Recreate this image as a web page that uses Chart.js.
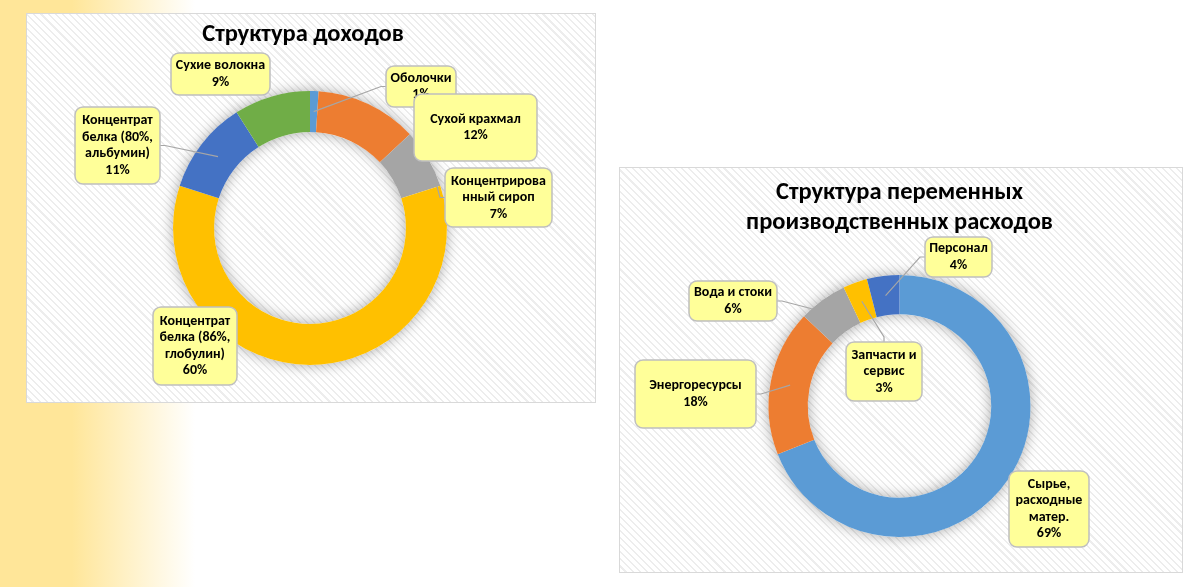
<!DOCTYPE html>
<html lang="ru">
<head>
<meta charset="UTF-8">
<title>Структура доходов и расходов</title>
<script src="https://cdn.jsdelivr.net/npm/chart.js"></script>
<style>
  html, body { margin: 0; padding: 0; }
  body {
    width: 1200px; height: 587px; position: relative; overflow: hidden;
    background: linear-gradient(to right, #ffe699 0, #ffe699 72px, #ffffff 195px);
  }
  .box {
    position: absolute; box-sizing: border-box; border: 1px solid #d9d9d9;
    background: repeating-linear-gradient(45deg, #ffffff 0 3.5px, #ededed 3.5px 5px);
  }
  #incomeBox { left: 26px; top: 13px; width: 570px; height: 390px; }
  #costBox { left: 619px; top: 167px; width: 564px; height: 406px; }
</style>
</head>
<body>
<div class="box" id="incomeBox"><canvas id="incomeChart"></canvas></div>
<div class="box" id="costBox"><canvas id="costChart"></canvas></div>

<script>
const FONT = "Carlito, Lato, 'Open Sans', sans-serif";

// Структура доходов, %
const incomeCategories = [
  ['Оболочки'],
  ['Сухой крахмал'],
  ['Концентрирова', 'нный сироп'],
  ['Концентрат', 'белка (86%,', 'глобулин)'],
  ['Концентрат', 'белка (80%,', 'альбумин)'],
  ['Сухие волокна']
];
const incomeShares = [1, 12, 7, 60, 11, 9];
const incomeColors = ['#5b9bd5', '#ed7d31', '#a5a5a5', '#ffc000', '#4472c4', '#70ad47'];

// Структура переменных производственных расходов, %
const costCategories = [
  ['Сырье,', 'расходные', 'матер.'],
  ['Энергоресурсы'],
  ['Вода и стоки'],
  ['Запчасти и', 'сервис'],
  ['Персонал']
];
const costShares = [69, 18, 6, 3, 4];
const costColors = ['#5b9bd5', '#ed7d31', '#a5a5a5', '#ffc000', '#4472c4'];

// callout boxes inside each canvas; leader = [position along slice, position across ring] or null
const incomeCallouts = [
  { x: 359, y: 52, w: 70, h: 41, leader: [0.5, 0.5] },
  { x: 387, y: 80, w: 123, h: 67, leader: null },
  { x: 418, y: 154, w: 107, h: 59, leader: [0.97, 0.92] },
  { x: 126, y: 293, w: 84, h: 78, leader: null },
  { x: 48, y: 93, w: 85, h: 77, leader: [0.5, 0.5] },
  { x: 144, y: 39, w: 99, h: 42, leader: null }
];
const costCallouts = [
  { x: 389, y: 303, w: 80, h: 76, leader: null },
  { x: 15, y: 192, w: 121, h: 68, leader: [0.5, 0.5] },
  { x: 69, y: 113, w: 88, h: 40, leader: [0.22, 1.0] },
  { x: 226, y: 174, w: 76, h: 59, leader: [0.5, 0.5] },
  { x: 305, y: 69, w: 67, h: 40, leader: [0.5, 0.5] }
];

// soft shadow around the ring, drawn once under all slices
const ringShadow = {
  id: 'ringShadow',
  beforeDatasetsDraw(chart) {
    const arc = chart.getDatasetMeta(0).data[0];
    if (!arc) return;
    const p = arc.getProps(['x', 'y', 'outerRadius', 'innerRadius'], true);
    const ctx = chart.ctx;
    ctx.save();
    ctx.shadowColor = 'rgba(0,0,0,0.35)';
    ctx.shadowBlur = 14;
    ctx.fillStyle = '#ffffff';
    ctx.beginPath();
    ctx.arc(p.x, p.y, p.outerRadius, 0, Math.PI * 2);
    ctx.arc(p.x, p.y, p.innerRadius, 0, Math.PI * 2, true);
    ctx.fill();
    ctx.restore();
  }
};

// widen the title block (so long lines are not squeezed) and nudge it sideways
const titleShift = {
  id: 'titleShift',
  afterLayout(chart, args, opts) {
    const t = chart.titleBlock;
    if (!t) return;
    t.left += (opts.dx || 0) - 120;
    t.right += (opts.dx || 0) + 120;
  }
};

// yellow data-label callouts with leader lines
const callouts = {
  id: 'callouts',
  afterDatasetsDraw(chart, args, opts) {
    const ctx = chart.ctx;
    const meta = chart.getDatasetMeta(0);
    const values = chart.data.datasets[0].data;
    const total = values.reduce((a, b) => a + b, 0);
    opts.boxes.forEach((b, i) => {
      const p = meta.data[i].getProps(['x', 'y', 'startAngle', 'endAngle', 'innerRadius', 'outerRadius'], true);
      ctx.save();
      if (b.leader) {
        const a = p.startAngle + (p.endAngle - p.startAngle) * b.leader[0];
        const r = p.innerRadius + (p.outerRadius - p.innerRadius) * b.leader[1];
        const ax = p.x + Math.cos(a) * r;
        const ay = p.y + Math.sin(a) * r;
        let ex, ey, sx, sy;
        if (ax < b.x) { ex = b.x; ey = b.y + b.h / 2; sx = ex - 5; sy = ey; }
        else if (ax > b.x + b.w) { ex = b.x + b.w; ey = b.y + b.h / 2; sx = ex + 5; sy = ey; }
        else if (ay < b.y) { ex = b.x + b.w / 2; ey = b.y; sx = ex; sy = ey - 5; }
        else { ex = b.x + b.w / 2; ey = b.y + b.h; sx = ex; sy = ey + 5; }
        ctx.strokeStyle = '#a6a6a6';
        ctx.lineWidth = 1.2;
        ctx.beginPath();
        ctx.moveTo(ax, ay);
        ctx.lineTo(sx, sy);
        ctx.lineTo(ex, ey);
        ctx.stroke();
      }
      ctx.fillStyle = '#ffff99';
      ctx.strokeStyle = '#bfbfbf';
      ctx.lineWidth = 1.5;
      ctx.beginPath();
      ctx.roundRect(b.x, b.y, b.w, b.h, 8);
      ctx.fill();
      ctx.stroke();

      const lines = chart.data.labels[i].concat(Math.round(values[i] / total * 100) + '%');
      const lh = 16.5;
      ctx.fillStyle = '#000000';
      ctx.font = 'bold 14px ' + FONT;
      ctx.textAlign = 'center';
      ctx.textBaseline = 'middle';
      const y0 = b.y + b.h / 2 - (lines.length - 1) * lh / 2;
      lines.forEach((t, k) => ctx.fillText(t, b.x + b.w / 2, y0 + k * lh));
      ctx.restore();
    });
  }
};

function makeDoughnut(id, labels, values, colors, title, lineHeight, padding, titleGap, dx, boxes) {
  return new Chart(document.getElementById(id), {
    type: 'doughnut',
    data: {
      labels: labels,
      datasets: [{
        data: values,
        backgroundColor: colors,
        borderWidth: 0
      }]
    },
    options: {
      responsive: true,
      maintainAspectRatio: false,
      animation: false,
      cutout: '70%',
      layout: { padding: padding },
      plugins: {
        legend: { display: false },
        tooltip: { enabled: false },
        title: {
          display: true,
          text: title,
          color: '#000000',
          font: { family: FONT, size: 24.5, weight: 'bold', lineHeight: lineHeight },
          padding: { top: 0, bottom: titleGap }
        },
        titleShift: { dx: dx },
        callouts: { boxes: boxes }
      }
    },
    plugins: [ringShadow, titleShift, callouts]
  });
}

makeDoughnut('incomeChart', incomeCategories, incomeShares, incomeColors,
  'Структура доходов', 1.2,
  { left: 146, right: 148, top: 6.3, bottom: 37 }, 41.3, -7, incomeCallouts);

makeDoughnut('costChart', costCategories, costShares, costColors,
  ['Структура переменных', 'производственных расходов'], 30 / 24.5,
  { left: 148.5, right: 151.5, top: 10, bottom: 35 }, 37, 0, costCallouts);
</script>
</body>
</html>
